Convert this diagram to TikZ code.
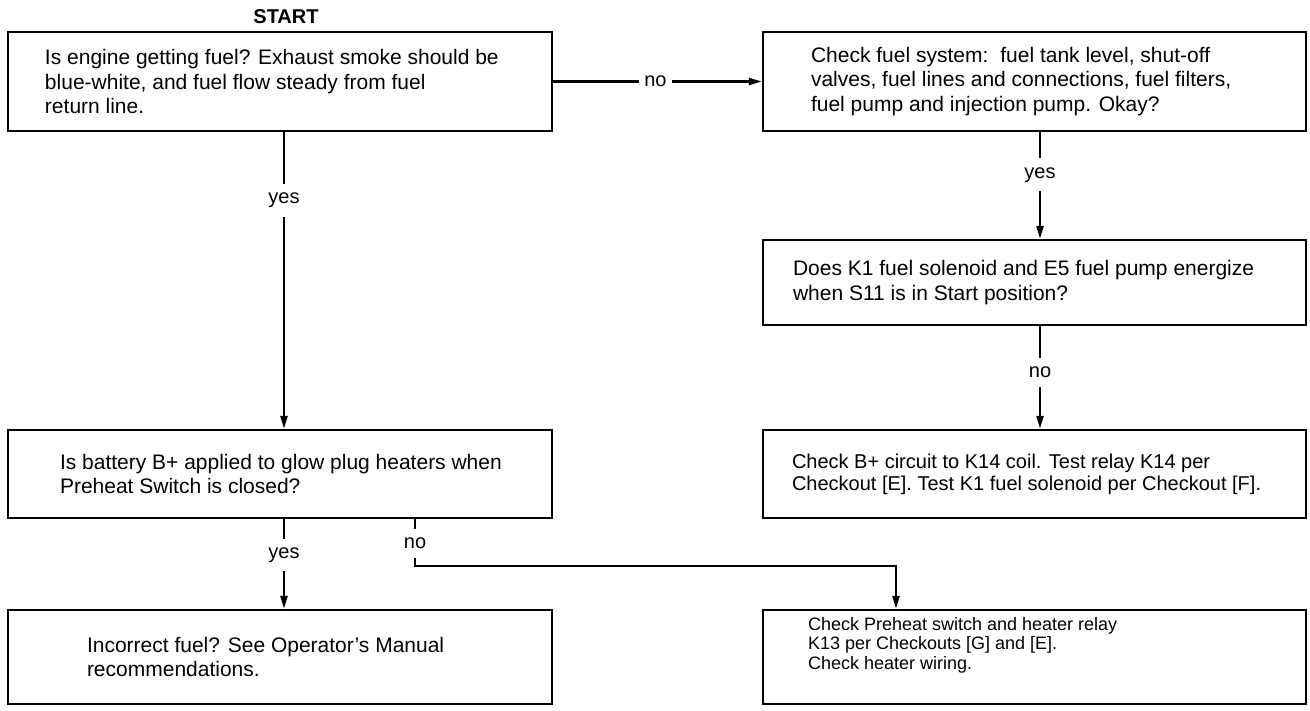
\documentclass[tikz,border=0pt]{standalone}
\usepackage{fontspec}
\setmainfont{Liberation Sans}
\usetikzlibrary{arrows.meta,positioning}

\tikzset{
  box/.style={draw, line width=2.4pt, inner sep=0pt},
  txt/.style={align=left, anchor=west, inner sep=0pt, font=\fontsize{21}{24.5}\selectfont},
  small/.style={font=\fontsize{18}{19.5}\selectfont},
  flow/.style={line width=2.4pt, -{Triangle[length=13pt,width=7pt]}},
  ans/.style={fill=white, inner xsep=5pt, inner ysep=9pt, font=\fontsize{20}{22}\selectfont},
}

\begin{document}
\begin{tikzpicture}[x=1pt,y=-1pt]

    \useasboundingbox (0,0) rectangle (1310,711);

    % title
    \node[font=\bfseries\fontsize{20}{22}\selectfont] (start) at (286,17) {START};

    % left column
    \node[box, minimum width=544pt, minimum height=99pt] (fuelq) at (280,81.5) {};
    \node[box, minimum width=544pt, minimum height=88pt] (battq) at (280,474) {};
    \node[box, minimum width=544pt, minimum height=94pt] (badfuel) at (280,657) {};

    % right column
    \node[box, minimum width=543pt, minimum height=99pt] (fuelsys) at (1034.5,81.5) {};
    \node[box, minimum width=543pt, minimum height=85pt] (solq) at (1034.5,282.5) {};
    \node[box, minimum width=543pt, minimum height=88pt] (relaychk) at (1034.5,474) {};
    \node[box, minimum width=543pt, minimum height=94pt] (heatchk) at (1034.5,657) {};

    % box texts
    \node[txt] (fuelq-t) at ([xshift=38pt]fuelq.west)
        {Is engine getting fuel? Exhaust smoke should be\\blue-white, and fuel flow steady from fuel\\return line.};
    \node[txt] (battq-t) at ([xshift=53pt]battq.west)
        {Is battery B+ applied to glow plug heaters when\\Preheat Switch is closed?};
    \node[txt] (badfuel-t) at ([xshift=80pt]badfuel.west)
        {Incorrect fuel? See Operator's Manual\\recommendations.};
    \node[txt] (fuelsys-t) at ([xshift=49pt]fuelsys.west)
        {Check fuel system:\hspace{12pt}fuel tank level, shut-off\\valves, fuel lines and connections, fuel filters,\\fuel pump and injection pump. Okay?};
    \node[txt] (solq-t) at ([xshift=31pt]solq.west)
        {Does K1 fuel solenoid and E5 fuel pump energize\\when S11 is in Start position?};
    \node[txt, font=\fontsize{20}{22}\selectfont] (relaychk-t) at ([xshift=30pt]relaychk.west)
        {Check B+ circuit to K14 coil. Test relay K14 per\\Checkout [E]. Test K1 fuel solenoid per Checkout [F].};
    \node[txt, small] (heatchk-t) at ([xshift=46pt,yshift=12pt]heatchk.west)
        {Check Preheat switch and heater relay\\K13 per Checkouts [G] and [E].\\Check heater wiring.};

    % connectors
    \draw[flow] (fuelq.east) -- node[ans, pos=0.49] {no} (fuelsys.west);
    \draw[flow] ([xshift=4pt]fuelq.south) -- node[ans, pos=0.23] {yes} ([xshift=4pt]battq.north);
    \draw[flow] ([xshift=5.5pt]fuelsys.south) -- node[ans, pos=0.4] {yes} ([xshift=5.5pt]solq.north);
    \draw[flow] ([xshift=5.5pt]solq.south) -- node[ans, pos=0.45] {no} ([xshift=5.5pt]relaychk.north);
    \draw[flow] ([xshift=4pt]battq.south) -- node[ans, pos=0.4] {yes} ([xshift=4pt]badfuel.north);
    \draw[flow] ([xshift=135pt]battq.south) -- node[ans, pos=0.52] {no} ++(0,47)
        -| ([xshift=-138.5pt]heatchk.north);

\end{tikzpicture}
\end{document}
